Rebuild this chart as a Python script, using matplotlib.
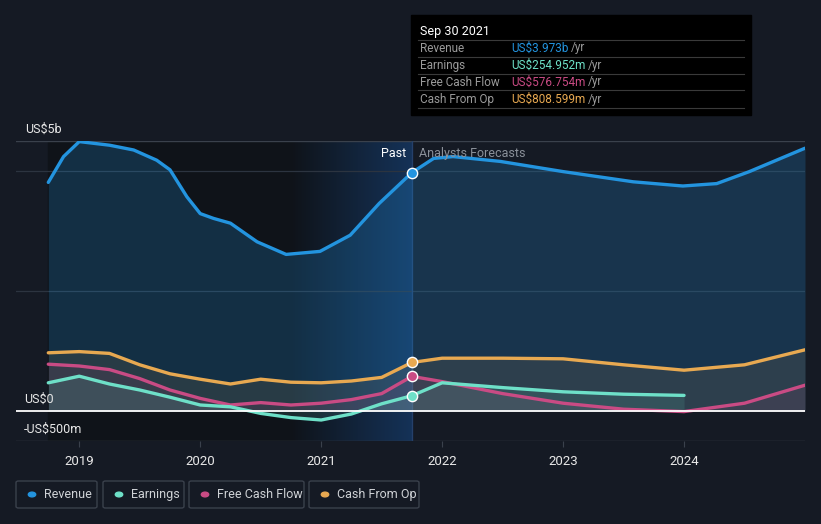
import matplotlib
matplotlib.use("Agg")
import matplotlib.pyplot as plt
import numpy as np
from matplotlib.patches import Rectangle, FancyBboxPatch, Circle
from matplotlib.colors import LinearSegmentedColormap

plt.rcParams['font.family'] = ['Roboto', 'DejaVu Sans']

# revenue (US$ b)
rev_past_t = [2018.744, 2018.87, 2019.0, 2019.25, 2019.45, 2019.64, 2019.75, 2019.89,
              2020.0, 2020.11, 2020.25, 2020.47, 2020.71, 2020.99, 2021.24, 2021.48, 2021.75]
revenue_past = [3.81, 4.24, 4.49, 4.43, 4.35, 4.18, 4.02, 3.57,
                3.29, 3.21, 3.13, 2.82, 2.61, 2.66, 2.93, 3.46, 3.973]
rev_fc_t = [2021.75, 2021.93, 2022.09, 2022.48, 2023.0, 2023.58, 2023.99, 2024.27, 2024.54, 2025.0]
revenue_fc = [3.973, 4.21, 4.24, 4.16, 3.99, 3.82, 3.75, 3.79, 3.99, 4.38]

# other series (US$ b), quarterly
past_t = [2018.744, 2019.0, 2019.25, 2019.5, 2019.75, 2020.0, 2020.25, 2020.5,
          2020.75, 2021.0, 2021.25, 2021.5, 2021.75]
earnings_past = [0.47, 0.58, 0.45, 0.35, 0.23, 0.10, 0.07, -0.04, -0.11, -0.15, -0.05, 0.12, 0.255]
fcf_past = [0.78, 0.75, 0.69, 0.54, 0.35, 0.21, 0.10, 0.14, 0.10, 0.13, 0.19, 0.29, 0.577]
cfo_past = [0.97, 0.99, 0.96, 0.77, 0.62, 0.53, 0.45, 0.53, 0.48, 0.47, 0.50, 0.56, 0.809]

fc_t = [2021.75, 2022.0, 2022.5, 2023.0, 2023.5, 2024.0, 2024.5, 2025.0]
fcf_fc = [0.577, 0.49, 0.29, 0.13, 0.03, -0.01, 0.13, 0.43]
cfo_fc = [0.809, 0.88, 0.88, 0.87, 0.77, 0.68, 0.77, 1.02]
earn_fc_t = [2021.75, 2022.0, 2022.5, 2023.0, 2023.5, 2024.0]
earnings_fc = [0.255, 0.47, 0.39, 0.32, 0.28, 0.26]

years = [2019, 2020, 2021, 2022, 2023, 2024]

BG = '#151a24'
C_REV = '#2394df'
C_EARN = '#6ee0c8'
C_FCF = '#c94b84'
C_CFO = '#e8a951'

W, H = 821, 524
fig = plt.figure(figsize=(W / 100, H / 100), dpi=100, facecolor=BG)

def fx(px):
    return px / W

def fy(py):
    return 1 - py / H

ax = fig.add_axes([fx(16), fy(441), fx(805) - fx(16), fy(141) - fy(441)])
ax.set_facecolor(BG)
ax.set_xlim(2018.477, 2025.0)
ax.set_ylim(-0.5, 4.5)
for s in ax.spines.values():
    s.set_visible(False)

# past background and highlighted last year
ax.axvspan(2018.744, 2021.75, color='#0f1319', zorder=0)
cmap = LinearSegmentedColormap.from_list('g', [(0.10, 0.30, 0.55, 0.0), (0.10, 0.30, 0.55, 0.55)])
grad = np.linspace(0, 1, 256).reshape(1, -1)
ax.imshow(grad, extent=[2020.74, 2021.75, -0.5, 4.5], aspect='auto', cmap=cmap, zorder=0.5)

for g in [2.0, 4.0]:
    ax.axhline(g, color='#2c3440', lw=0.9, zorder=1)
ax.axhline(4.5, color='#3a414c', lw=1, zorder=1)
ax.axhline(-0.5, color='#3a414c', lw=1, zorder=1)
ax.axvline(2021.75, color='#25406a', lw=1, zorder=1)

series = [
    (rev_past_t, revenue_past, rev_fc_t, revenue_fc, C_REV, 0.22),
    (past_t, cfo_past, fc_t, cfo_fc, C_CFO, 0.10),
    (past_t, fcf_past, fc_t, fcf_fc, C_FCF, 0.10),
    (past_t, earnings_past, earn_fc_t, earnings_fc, C_EARN, 0.12),
]
for pt, pv, ft, fv, col, a in series:
    t = pt + ft[1:]
    v = pv + fv[1:]
    ax.fill_between(t, v, 0, color=col, alpha=a, lw=0, zorder=2)
    ax.plot(t, v, color=col, lw=2.4, zorder=3, solid_capstyle='round', solid_joinstyle='round')
    ax.scatter([pt[-1]], [pv[-1]], s=55, color=col, edgecolor='white', linewidth=1, zorder=5)

ax.axhline(0, color='white', lw=1.3, zorder=4)

ax.set_xticks(years)
ax.set_xticklabels([str(y) for y in years], color='#e8e8e8', fontsize=9.5)
ax.tick_params(axis='x', length=4, color='#3a414c', pad=6)
ax.set_yticks([])

ax.text(2021.7, 4.29, 'Past', color='white', fontsize=9, ha='right', va='center', zorder=6)
ax.text(2021.81, 4.29, 'Analysts Forecasts', color='#8a9099', fontsize=9, ha='left', va='center', zorder=6)

# y labels
fig.text(fx(25), fy(129), 'US$5b', color='#e8e8e8', fontsize=9, va='center')
fig.text(fx(24), fy(399), 'US$0', color='#e8e8e8', fontsize=9, va='center')
fig.text(fx(24), fy(429), '-US$500m', color='#e8e8e8', fontsize=9, va='center')

# tooltip
fig.add_artist(Rectangle((fx(411), fy(115)), fx(751) - fx(411), fy(15) - fy(115),
                         transform=fig.transFigure, color='black', zorder=10))
fig.text(fx(420), fy(31), 'Sep 30 2021', color='white', fontsize=9, va='center', zorder=11)
rows = [('Revenue', 'US$3.973b', C_REV), ('Earnings', 'US$254.952m', C_EARN),
        ('Free Cash Flow', 'US$576.754m', C_FCF), ('Cash From Op', 'US$808.599m', C_CFO)]
for i, (lab, val, col) in enumerate(rows):
    yy = 48 + i * 17
    fig.add_artist(plt.Line2D([fx(418), fx(744)], [fy(yy - 8.5), fy(yy - 8.5)],
                              transform=fig.transFigure, color='#3a3a3a', lw=0.8, zorder=11))
    fig.text(fx(420), fy(yy), lab, color='#9a9a9a', fontsize=8.5, va='center', zorder=11)
    t = fig.text(fx(511), fy(yy), val, color=col, fontsize=8.5, va='center', zorder=11)
    fig.canvas.draw()
    bb = t.get_window_extent()
    fig.text(bb.x1 / W + fx(3), fy(yy), '/yr', color='#9a9a9a', fontsize=8.5, va='center', zorder=11)
fig.add_artist(plt.Line2D([fx(418), fx(744)], [fy(108.5), fy(108.5)],
                          transform=fig.transFigure, color='#3a3a3a', lw=0.8, zorder=11))

# legend
legend = [('Revenue', C_REV, 16, 97), ('Earnings', C_EARN, 103, 184),
          ('Free Cash Flow', C_FCF, 189, 304), ('Cash From Op', C_CFO, 309, 419)]
for lab, col, x0, x1 in legend:
    fig.add_artist(FancyBboxPatch((fx(x0), fy(508)), fx(x1) - fx(x0), fy(481) - fy(508),
                                  boxstyle='round,pad=0,rounding_size=0.003',
                                  transform=fig.transFigure, facecolor='none',
                                  edgecolor='#3a414c', lw=1))
    fig.add_artist(Circle((fx(x0 + 16), fy(494.5)), 0.0045, transform=fig.transFigure,
                          color=col))
    fig.text(fx(x0 + 28), fy(494.5), lab, color='#cfd2d6', fontsize=9, va='center')

fig.savefig('out.png', dpi=100, facecolor=BG)
